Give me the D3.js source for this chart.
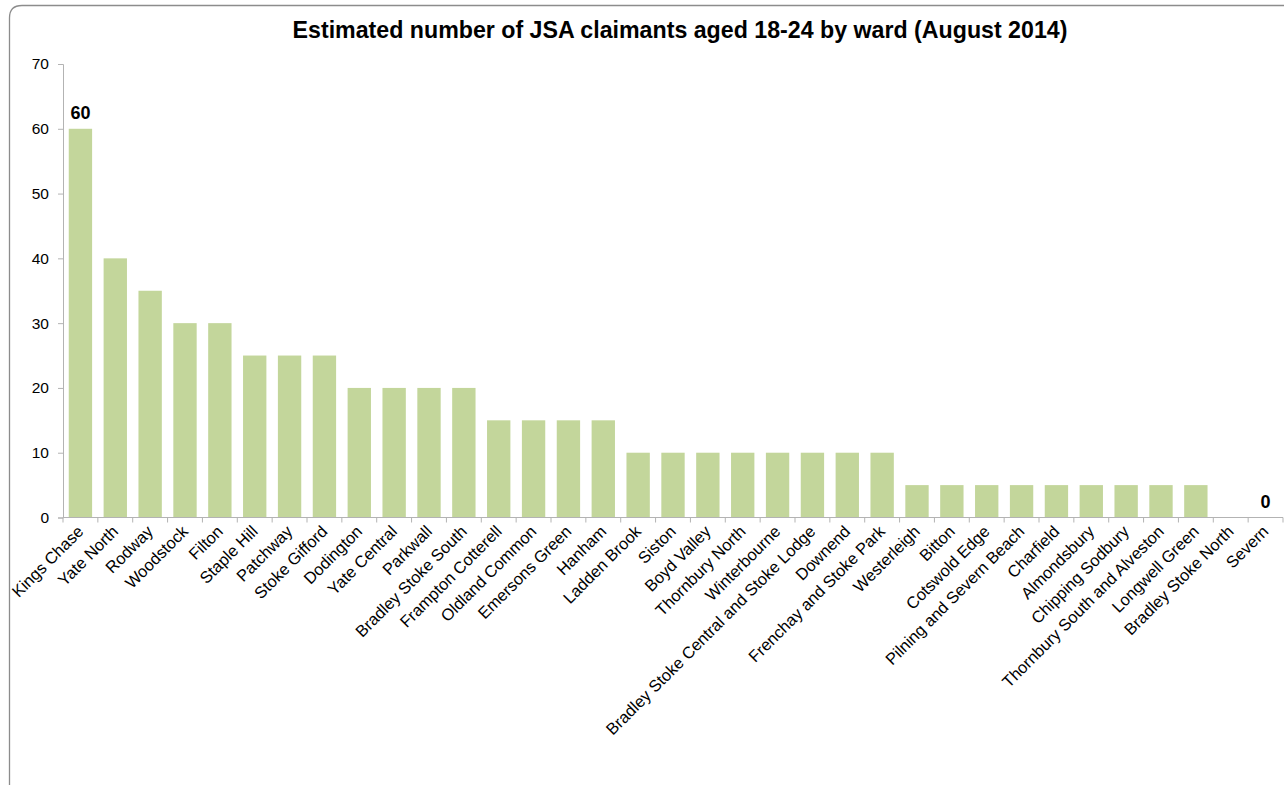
<!DOCTYPE html>
<html>
<head>
<meta charset="utf-8">
<script src="https://cdn.jsdelivr.net/npm/d3@7"></script>
<style>
  html, body { margin: 0; padding: 0; background: #fff; }
  svg { display: block; font-family: "Liberation Sans", Arial, sans-serif; }
</style>
</head>
<body>
<svg id="chart" width="1285" height="785"></svg>
<script>
const titleText = "Estimated number of JSA claimants aged 18-24 by ward (August 2014)";
const wards = ["Kings Chase","Yate North","Rodway","Woodstock","Filton","Staple Hill","Patchway","Stoke Gifford","Dodington","Yate Central","Parkwall","Bradley Stoke South","Frampton Cotterell","Oldland Common","Emersons Green","Hanham","Ladden Brook","Siston","Boyd Valley","Thornbury North","Winterbourne","Bradley Stoke Central and Stoke Lodge","Downend","Frenchay and Stoke Park","Westerleigh","Bitton","Cotswold Edge","Pilning and Severn Beach","Charfield","Almondsbury","Chipping Sodbury","Thornbury South and Alveston","Longwell Green","Bradley Stoke North","Severn"];
const claimants = [60,40,35,30,30,25,25,25,20,20,20,20,15,15,15,15,10,10,10,10,10,10,10,10,5,5,5,5,5,5,5,5,5,0,0];
const yTicks = [0,10,20,30,40,50,60,70];
const labelledWards = ["Kings Chase","Severn"];

const svg = d3.select("#chart");

// outer frame
svg.append("path")
  .attr("d", "M9.5,790 L9.5,18 Q9.5,5.5 22,5.5 L1284,5.5")
  .attr("fill", "none").attr("stroke", "#8c8c8c").attr("stroke-width", 1.3);

const x0 = 63, x1 = 1283, yTop = 64, yBot = 517.5;
const x = d3.scaleBand().domain(wards).range([x0, x1]).paddingInner(0.33).paddingOuter(0.165);
const y = d3.scaleLinear().domain([0, 70]).range([yBot, yTop]);

// title
svg.append("text")
  .attr("x", 680).attr("y", 38)
  .attr("text-anchor", "middle")
  .attr("font-weight", "bold").attr("font-size", 23.2).attr("fill", "#000")
  .text(titleText);

// bars
svg.append("g").selectAll("rect").data(wards).join("rect")
  .attr("x", d => x(d))
  .attr("width", x.bandwidth())
  .attr("y", (d, i) => y(claimants[i]))
  .attr("height", (d, i) => y(0) - y(claimants[i]))
  .attr("fill", "#c3d69b");

// y axis
const yAxis = d3.axisLeft(y).tickValues(yTicks).tickSize(5).tickPadding(9);
const gy = svg.append("g").attr("transform", `translate(${x0},0)`).call(yAxis);
gy.select(".domain").attr("stroke", "#b3b3b3");
gy.selectAll(".tick line").attr("stroke", "#b3b3b3");
gy.selectAll(".tick text").attr("font-size", 15.5).attr("fill", "#000").attr("font-family", "Liberation Sans, Arial, sans-serif");

// x axis line and ticks between categories
const gx = svg.append("g");
gx.append("line").attr("x1", x0).attr("x2", x1).attr("y1", yBot).attr("y2", yBot).attr("stroke", "#b3b3b3");
gx.selectAll("line.tk").data(d3.range(wards.length + 1)).join("line")
  .attr("class", "tk")
  .attr("x1", i => x0 + i * (x1 - x0) / wards.length)
  .attr("x2", i => x0 + i * (x1 - x0) / wards.length)
  .attr("y1", yBot).attr("y2", yBot + 5)
  .attr("stroke", "#b3b3b3");

// x labels rotated
gx.selectAll("text").data(wards).join("text")
  .attr("transform", d => `translate(${x(d) + x.bandwidth() / 2 + 4},${yBot + 15}) rotate(-45)`)
  .attr("text-anchor", "end")
  .attr("font-size", 16.4).attr("fill", "#000")
  .text(d => d);

// data labels
svg.append("g").selectAll("text").data(labelledWards).join("text")
  .attr("x", d => x(d) + x.bandwidth() / 2)
  .attr("y", d => y(claimants[wards.indexOf(d)]) - 10)
  .attr("text-anchor", "middle")
  .attr("font-weight", "bold").attr("font-size", 18).attr("fill", "#000")
  .text(d => claimants[wards.indexOf(d)]);
</script>
</body>
</html>
